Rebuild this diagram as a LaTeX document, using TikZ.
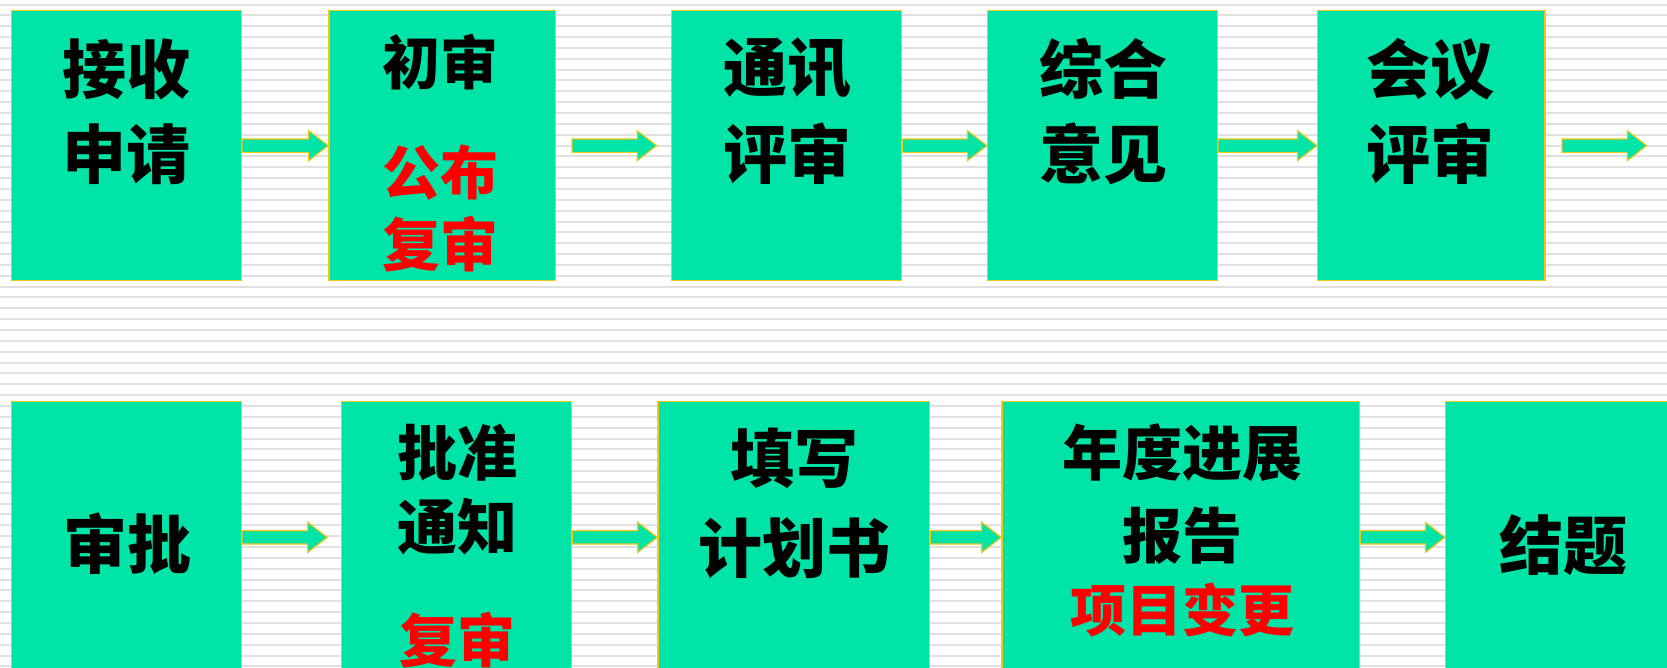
\documentclass[tikz,border=0pt]{standalone}
\usepackage{fontspec}
\newfontfamily\cjk{Noto Sans CJK SC}
\usetikzlibrary{calc}
\definecolor{boxfill}{RGB}{0,228,168}
\definecolor{boxline}{RGB}{240,200,20}
\definecolor{stripe}{RGB}{224,224,224}
\definecolor{redtxt}{RGB}{255,0,0}
\begin{document}
\begin{tikzpicture}[x=1pt,y=-1pt,
  stage/.style={draw=boxline, fill=boxfill, line width=1.3pt, rectangle, inner sep=0pt, anchor=north west},
  txt/.style={font=\cjk\bfseries\fontsize{#1}{#1}\selectfont, inner sep=0pt, anchor=center},
  blacktxt/.style={txt=#1, text=black},
  redtext/.style={txt=#1, text=redtxt},
  stripeline/.style={draw=stripe, line width=2pt},
  blockarrow/.style={draw=boxline, fill=boxfill, line width=1.2pt, line join=miter,
    to path={let \p1=(\tikztostart), \p2=(\tikztotarget) in
      (\x1,\y1+6.7pt) -- (\x2-19.5pt,\y1+6.7pt) -- (\x2-19.5pt,\y1+15pt) -- (\x2,\y1)
      -- (\x2-19.5pt,\y1-15pt) -- (\x2-19.5pt,\y1-6.7pt) -- (\x1,\y1-6.7pt) -- cycle}}]
\path[use as bounding box] (0,0) rectangle (1667,667);
\clip (0,0) rectangle (1667,667);
\fill[white] (0,0) rectangle (1667,667);
\foreach \k in {0,...,61} \draw[stripeline] (0,4.5+10.85*\k) -- (1667,4.5+10.85*\k);

% row 1 boxes
\node[stage, minimum width=229.7pt, minimum height=270pt] (s1) at (11,10) {};
\node[stage, minimum width=226.7pt, minimum height=270pt] (s2) at (328.3,10) {};
\node[stage, minimum width=230pt, minimum height=270pt] (s3) at (671,10) {};
\node[stage, minimum width=229.7pt, minimum height=270pt] (s4) at (987,10) {};
\node[stage, minimum width=227.3pt, minimum height=270pt] (s5) at (1317,10) {};

% row 2 boxes
\node[stage, minimum width=229.7pt, minimum height=272pt] (t1) at (11,400.7) {};
\node[stage, minimum width=230pt, minimum height=272pt] (t2) at (341,400.7) {};
\node[stage, minimum width=271.7pt, minimum height=272pt] (t3) at (657.3,400.7) {};
\node[stage, minimum width=357.7pt, minimum height=272pt] (t4) at (1001.3,400.7) {};
\node[stage, minimum width=236pt, minimum height=272pt] (t5) at (1445,400.7) {};

% row 1 texts
\node[blacktxt=64pt] (s1a) at (126,69) {接收};
\node[blacktxt=64pt] (s1b) at (126,154) {申请};
\node[blacktxt=58pt] (s2a) at (440,62.5) {初审};
\node[redtext=58pt] (s2b) at (440,173) {公布};
\node[redtext=58pt] (s2c) at (440,244) {复审};
\node[blacktxt=64pt] (s3a) at (787,68) {通讯};
\node[blacktxt=64pt] (s3b) at (787,154) {评审};
\node[blacktxt=64pt] (s4a) at (1103,69) {综合};
\node[blacktxt=64pt] (s4b) at (1103,154) {意见};
\node[blacktxt=64pt] (s5a) at (1430,69) {会议};
\node[blacktxt=64pt] (s5b) at (1430,154) {评审};

% row 2 texts
\node[blacktxt=64pt] (t1a) at (127,544) {审批};
\node[blacktxt=60pt] (t2a) at (457,453) {批准};
\node[blacktxt=60pt] (t2b) at (457,527) {通知};
\node[redtext=58pt] (t2c) at (457,640) {复审};
\node[blacktxt=64pt] (t3a) at (794,458) {填写};
\node[blacktxt=64pt] (t3b) at (794,548) {计划书};
\node[blacktxt=60pt] (t4a) at (1182,453) {年度进展};
\node[blacktxt=60pt] (t4b) at (1182,536) {报告};
\node[redtext=56pt] (t4c) at (1182,610) {项目变更};
\node[blacktxt=64pt] (t5a) at (1563,545) {结题};

% row 1 arrows
\coordinate (end1) at (1646.7,145);
\path[blockarrow] (s1.east) to (s2.west);
\path[blockarrow] ([xshift=15.7pt]s2.east) to ([xshift=-14.3pt]s3.west);
\path[blockarrow] (s3.east) to (s4.west);
\path[blockarrow] (s4.east) to (s5.west);
\path[blockarrow] ([xshift=16.4pt]s5.east) to (end1);

% row 2 arrows
\path[blockarrow] (t1.east) to ([xshift=-13.7pt]t2.west);
\path[blockarrow] (t2.east) to (t3.west);
\path[blockarrow] (t3.east) to (t4.west);
\path[blockarrow] (t4.east) to (t5.west);
\end{tikzpicture}
\end{document}
